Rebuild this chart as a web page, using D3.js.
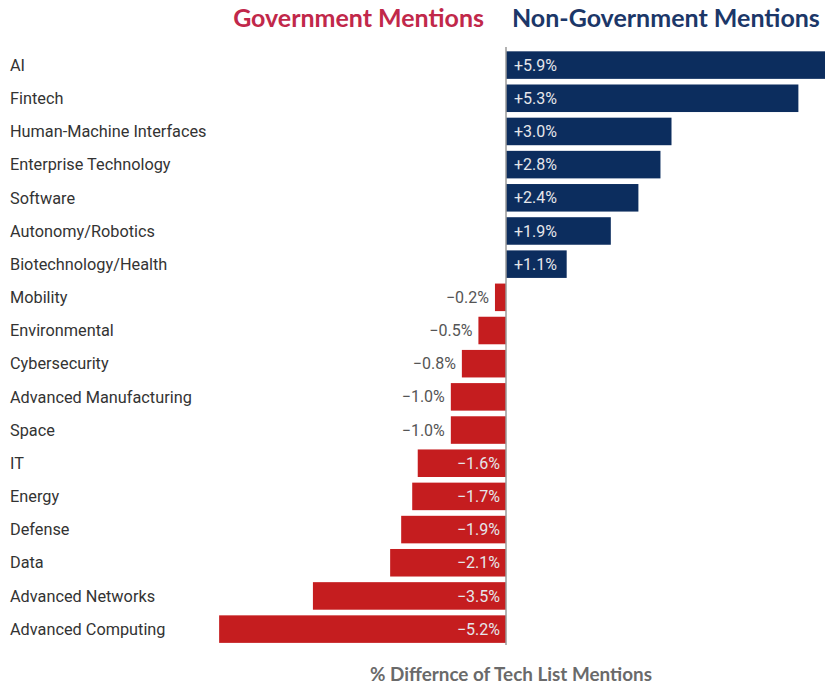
<!DOCTYPE html>
<html>
<head>
<meta charset="utf-8">
<script src="https://cdn.jsdelivr.net/npm/d3@7"></script>
<style>
  html, body { margin: 0; padding: 0; background: #ffffff; }
  svg { display: block; }
</style>
</head>
<body>
<svg id="chart" width="825" height="686"></svg>
<script>
// Tech categories and the % difference in mentions (non-government minus government)
const categories = [
  "AI", "Fintech", "Human-Machine Interfaces", "Enterprise Technology", "Software",
  "Autonomy/Robotics", "Biotechnology/Health", "Mobility", "Environmental", "Cybersecurity",
  "Advanced Manufacturing", "Space", "IT", "Energy", "Defense", "Data",
  "Advanced Networks", "Advanced Computing"
];
const differences = [
  5.9, 5.3, 3.0, 2.8, 2.4, 1.9, 1.1, -0.2, -0.5, -0.8,
  -1.0, -1.0, -1.6, -1.7, -1.9, -2.1, -3.5, -5.2
];
const headerLabels = ["Government Mentions", "Non-Government Mentions"];
const axisTitle = "% Differnce of Tech List Mentions";

const data = categories.map((c, i) => ({ category: c, value: differences[i] }));

const navy = "#0c2d5e";
const red = "#c51d1f";
const headerRed = "#c1284a";
const headerNavy = "#1c3768";

const svg = d3.select("#chart");

const x = d3.scaleLinear().domain([-6, 6]).range([175, 837]);
const y = d3.scaleBand()
  .domain(categories)
  .range([48.5, 645.7])
  .paddingInner(0.17)
  .paddingOuter(0.085);

const zeroX = x(0);

// Bars
svg.append("g")
  .selectAll("rect")
  .data(data)
  .join("rect")
  .attr("x", d => Math.min(x(d.value), zeroX))
  .attr("y", d => y(d.category))
  .attr("width", d => Math.abs(x(d.value) - zeroX))
  .attr("height", y.bandwidth())
  .attr("fill", d => d.value >= 0 ? navy : red);

// Zero baseline
svg.append("line")
  .attr("x1", zeroX).attr("x2", zeroX)
  .attr("y1", 47).attr("y2", 645)
  .attr("stroke", "#9a9a9a")
  .attr("stroke-width", 1.5);

// Category labels
svg.append("g")
  .selectAll("text")
  .data(data)
  .join("text")
  .attr("x", 10)
  .attr("y", d => y(d.category) + y.bandwidth() / 2)
  .attr("dy", "0.35em")
  .attr("font-family", "Roboto, sans-serif")
  .attr("font-size", 16.3)
  .attr("fill", "#333333")
  .text(d => d.category);

// Value labels: inside the bar when it is wide enough, else just outside
const fmt = v => (v > 0 ? "+" : "\u2212") + Math.abs(v).toFixed(1) + "%";
const inside = d => Math.abs(d.value) > 1.05;

svg.append("g")
  .selectAll("text")
  .data(data)
  .join("text")
  .attr("x", d => {
    if (d.value >= 0) return zeroX + 8;
    return inside(d) ? zeroX - 6 : x(d.value) - 6;
  })
  .attr("y", d => y(d.category) + y.bandwidth() / 2)
  .attr("dy", "0.35em")
  .attr("text-anchor", d => d.value >= 0 ? "start" : "end")
  .attr("font-family", "Roboto, sans-serif")
  .attr("font-size", 16)
  .attr("fill", d => inside(d) ? "#e6e6ea" : "#555555")
  .text(d => fmt(d.value));

// Header labels on either side of the baseline
function fitText(sel, width) {
  const w = sel.node().getComputedTextLength();
  const fs = parseFloat(sel.attr("font-size"));
  sel.attr("font-size", fs * width / w);
}

const gov = svg.append("text")
  .attr("x", 484)
  .attr("y", 27)
  .attr("text-anchor", "end")
  .attr("font-family", "Lato, sans-serif")
  .attr("font-weight", 700)
  .attr("font-size", 21)
  .attr("fill", headerRed)
  .text(headerLabels[0]);
fitText(gov, 251);

const nonGov = svg.append("text")
  .attr("x", 512)
  .attr("y", 27)
  .attr("text-anchor", "start")
  .attr("font-family", "Lato, sans-serif")
  .attr("font-weight", 700)
  .attr("font-size", 21)
  .attr("fill", headerNavy)
  .text(headerLabels[1]);
fitText(nonGov, 308);

// Axis title
const title = svg.append("text")
  .attr("x", 511)
  .attr("y", 681)
  .attr("text-anchor", "middle")
  .attr("font-family", "Lato, sans-serif")
  .attr("font-weight", 700)
  .attr("font-size", 17)
  .attr("fill", "#6a6a6a")
  .text(axisTitle);
fitText(title, 282);
</script>
</body>
</html>
